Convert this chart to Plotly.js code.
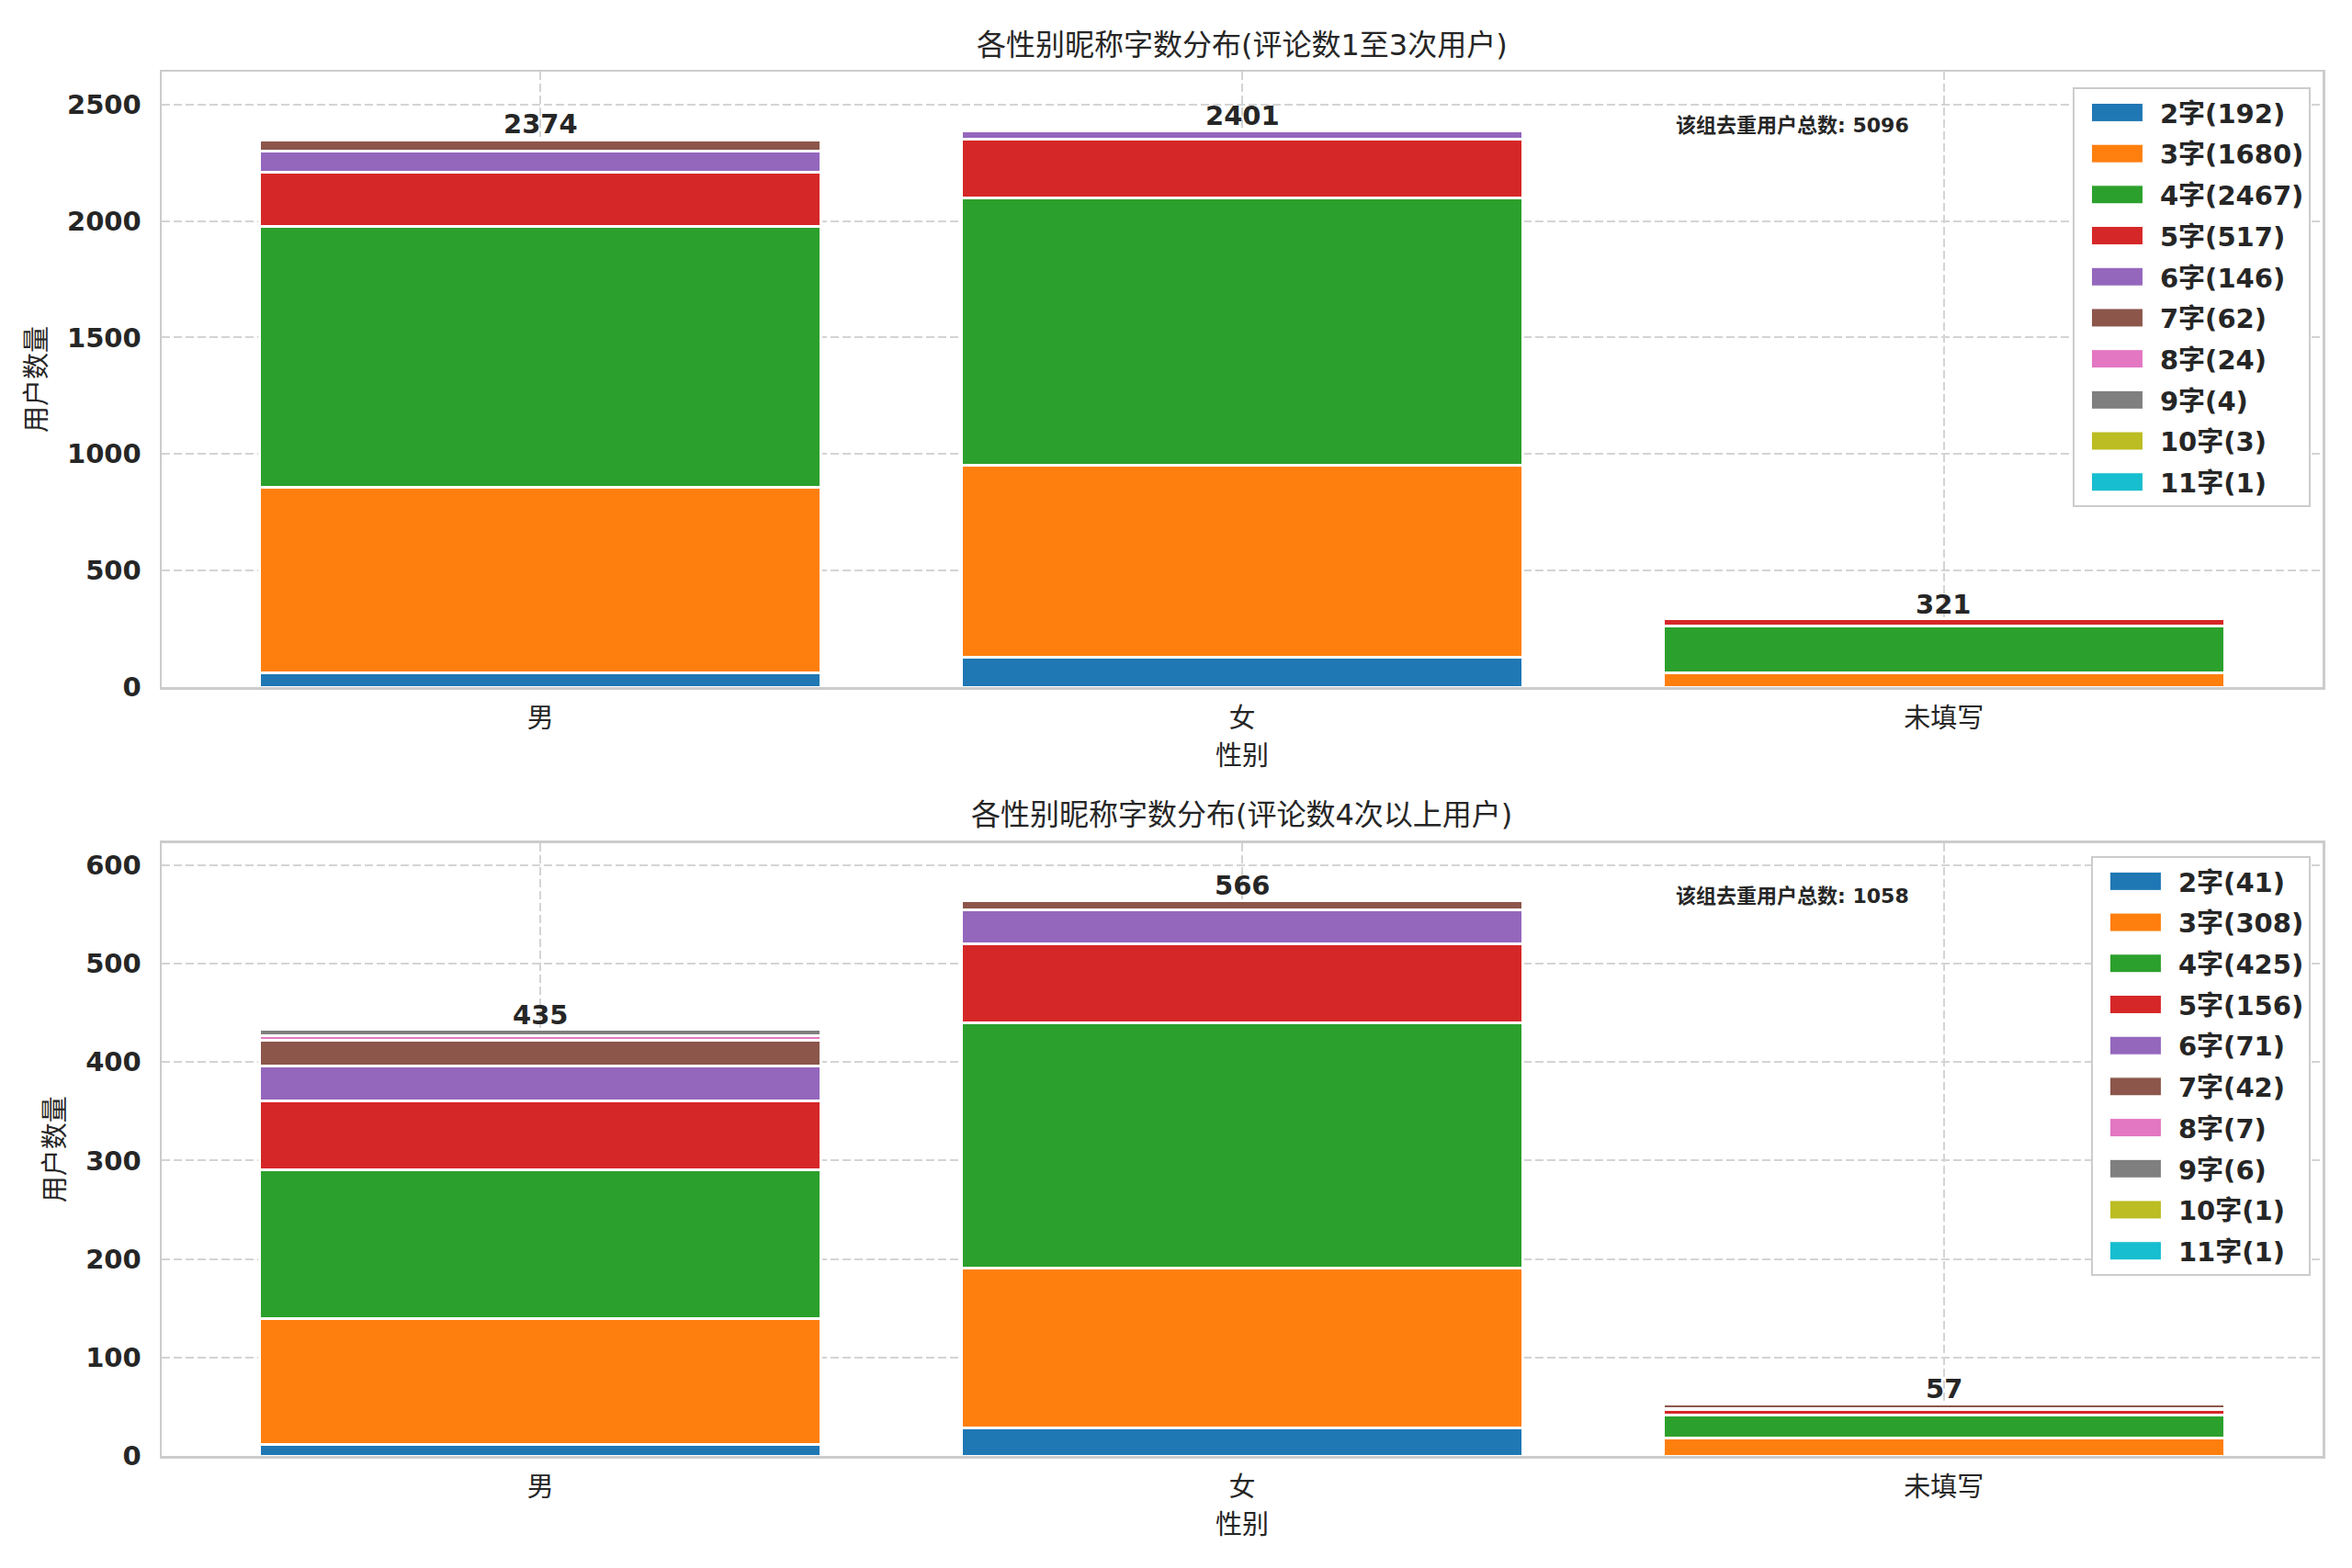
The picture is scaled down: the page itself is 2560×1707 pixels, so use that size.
<!DOCTYPE html>
<html>
<head>
<meta charset="utf-8">
<script src="https://cdn.plot.ly/plotly-3.0.1.min.js"></script>
<style>
    html, body { margin: 0; padding: 0; background: #ffffff; }
    #chart { width: 2560px; height: 1707px; }
</style>
</head>
<body>
<div id="chart"></div>
<script>
/* 各性别昵称字数分布, two stacked bar panels */

const genders = ["男", "女", "未填写"];
const wordCounts = ["2", "3", "4", "5", "6", "7", "8", "9", "10", "11"];

// legend totals per word count
const topLegendTotals = [192, 1680, 2467, 517, 146, 62, 24, 4, 3, 1];
const bottomLegendTotals = [41, 308, 425, 156, 71, 42, 7, 6, 1, 1];

// bar totals printed above each bar
const topBarTotals = [2374, 2401, 321];
const bottomBarTotals = [435, 566, 57];

const topGroupTotal = 5096;
const bottomGroupTotal = 1058;

// segment values, one array per word count: [男, 女, 未填写]
const top2 = [62, 128, 0];
const top3 = [795, 822, 62];
const top4 = [1118, 1150, 200];
const top5 = [234, 250, 30];
const top6 = [91, 38, 0];
const top7 = [47, 0, 0];
const top8 = [8, 0, 0];
const top9 = [0, 0, 0];
const top10 = [0, 0, 0];
const top11 = [0, 0, 0];

const bottom2 = [12, 29, 0];
const bottom3 = [128, 162, 18];
const bottom4 = [151, 249, 24];
const bottom5 = [70, 80, 5];
const bottom6 = [35, 35, 1];
const bottom7 = [26, 9, 5];
const bottom8 = [5, 0, 0];
const bottom9 = [6, 0, 0];
const bottom10 = [0, 0, 0];
const bottom11 = [0, 0, 0];

const topSeries = [top2, top3, top4, top5, top6, top7, top8, top9, top10, top11];
const bottomSeries = [bottom2, bottom3, bottom4, bottom5, bottom6, bottom7, bottom8, bottom9, bottom10, bottom11];

const colors = [
    "#1f77b4", "#ff7f0e", "#2ca02c", "#d62728", "#9467bd",
    "#8c564b", "#e377c2", "#7f7f7f", "#bcbd22", "#17becf"
];

const FONT = "DejaVu Sans, Noto Sans CJK SC, sans-serif";
const INK = "#262626";

function buildTraces(series, legendTotals, axisSuffix, legendName) {
    return series.map((values, i) => ({
        type: "bar",
        x: genders,
        y: values,
        name: wordCounts[i] + "字(" + legendTotals[i] + ")",
        legend: legendName,
        legendgroup: legendName + "_" + i,
        xaxis: "x" + axisSuffix,
        yaxis: "y" + axisSuffix,
        marker: {
            color: colors[i],
            line: { color: "#ffffff", width: 3 }
        },
        hoverinfo: "skip"
    }));
}

function stackHeights(series) {
    return genders.map((g, j) =>
        series.reduce((acc, values) => acc + values[j], 0)
    );
}

function barLabels(series, totals, axisSuffix) {
    const heights = stackHeights(series);
    return genders.map((g, j) => ({
        x: g,
        y: heights[j],
        xref: "x" + axisSuffix,
        yref: "y" + axisSuffix,
        text: String(totals[j]),
        showarrow: false,
        yanchor: "bottom",
        yshift: -3,
        font: { family: FONT, size: 29, color: INK, weight: "bold" }
    }));
}

function xAxis(anchor) {
    return {
        domain: [0.06875, 0.9875],
        anchor: anchor,
        type: "category",
        range: [-0.54, 2.54],
        showgrid: true,
        gridcolor: "#d4d4d4",
        gridwidth: 2,
        griddash: "9px,4px",
        showline: true,
        mirror: true,
        linecolor: "#cccccc",
        linewidth: 2.5,
        ticks: "",
        ticklabelstandoff: 7,
        tickfont: { family: FONT, size: 29, color: INK },
        automargin: false,
        title: {
            text: "性别",
            standoff: 15,
            font: { family: FONT, size: 29, color: INK }
        }
    };
}

function yAxis(anchor, domain, maxValue, dtick) {
    return {
        domain: domain,
        anchor: anchor,
        range: [0, maxValue],
        dtick: dtick,
        showgrid: true,
        gridcolor: "#d4d4d4",
        gridwidth: 2,
        griddash: "9px,4px",
        zeroline: false,
        showline: true,
        mirror: true,
        linecolor: "#cccccc",
        linewidth: 2.5,
        ticks: "",
        ticklabelstandoff: 14,
        tickfont: { family: FONT, size: 29, color: INK, weight: "bold" },
        automargin: false,
        title: {
            text: "用户数量",
            standoff: 14,
            font: { family: FONT, size: 29, color: INK }
        }
    };
}

function legendBox(yTop) {
    return {
        x: 0.9824,
        xanchor: "right",
        y: yTop,
        yanchor: "top",
        bgcolor: "#ffffff",
        bordercolor: "#cccccc",
        borderwidth: 2,
        itemwidth: 83,
        tracegroupgap: 4,
        font: { family: FONT, size: 29, color: INK, weight: "bold" }
    };
}

const traces = [
    ...buildTraces(topSeries, topLegendTotals, "", "legend"),
    ...buildTraces(bottomSeries, bottomLegendTotals, "2", "legend2")
];

const titles = [
    { text: "各性别昵称字数分布(评论数1至3次用户)", y: 0.9713 },
    { text: "各性别昵称字数分布(评论数4次以上用户)", y: 0.4806 }
].map(t => ({
    text: t.text,
    x: 0.528,
    y: t.y,
    xref: "paper",
    yref: "paper",
    xanchor: "center",
    yanchor: "middle",
    showarrow: false,
    font: { family: FONT, size: 32, color: INK }
}));

const groupNotes = [topGroupTotal, bottomGroupTotal].map((total, i) => ({
    text: "该组去重用户总数: " + total,
    x: 0.70,
    y: 0.913,
    xref: i === 0 ? "x domain" : "x2 domain",
    yref: i === 0 ? "y domain" : "y2 domain",
    xanchor: "left",
    yanchor: "middle",
    showarrow: false,
    font: { family: FONT, size: 22, color: INK, weight: "bold" }
}));

const layout = {
    width: 2560,
    height: 1707,
    paper_bgcolor: "#ffffff",
    plot_bgcolor: "#ffffff",
    margin: { t: 0, r: 0, b: 0, l: 0 },
    barmode: "stack",
    bargap: 0.2,
    showlegend: true,
    font: { family: FONT, color: INK },

    xaxis: xAxis("y"),
    yaxis: yAxis("x", [0.5618, 0.9543], 2641, 500),
    xaxis2: xAxis("y2"),
    yaxis2: yAxis("x2", [0.0714, 0.4625], 622.6, 100),

    legend: legendBox(0.9443),
    legend2: legendBox(0.454),

    annotations: [
        ...titles,
        ...groupNotes,
        ...barLabels(topSeries, topBarTotals, ""),
        ...barLabels(bottomSeries, bottomBarTotals, "2")
    ]
};

Plotly.newPlot("chart", traces, layout, {
    displayModeBar: false,
    staticPlot: true
}).then(gd => {
    // wider legend patches, like the matplotlib handles
    gd.querySelectorAll("g.legendpoints path").forEach(p => {
        p.setAttribute("d", "M-28,-10H28V10H-28Z");
        p.style.strokeWidth = "1px";
    });
});
</script>
</body>
</html>
